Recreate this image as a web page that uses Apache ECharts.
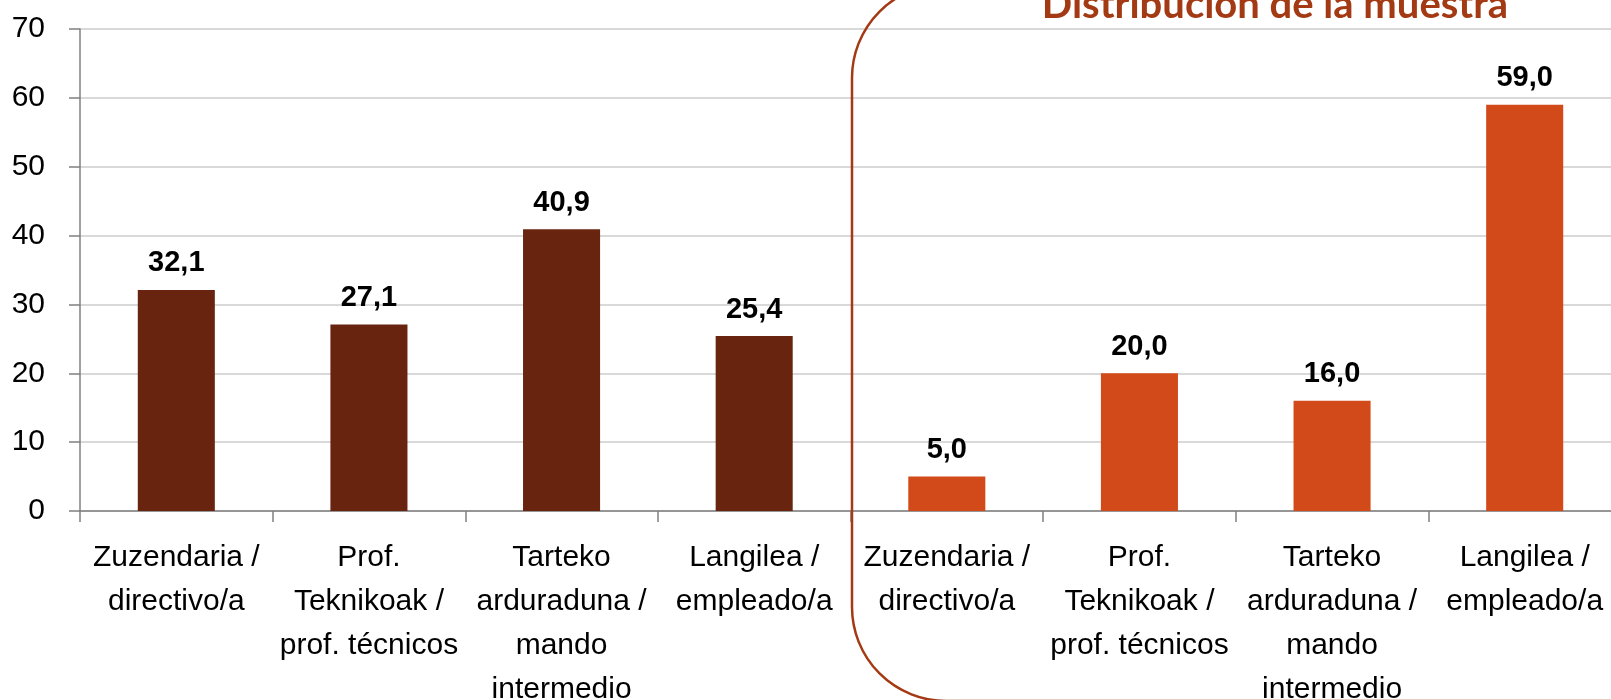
<!DOCTYPE html>
<html>
<head>
<meta charset="utf-8">
<script src="https://cdn.jsdelivr.net/npm/echarts@6/dist/echarts.min.js"></script>
<style>
  html, body { margin: 0; padding: 0; background: #fff; }
  #chart { width: 1611px; height: 700px; }
</style>
</head>
<body>
<div id="chart"></div>
<script>
  // categorias (se repiten en los dos bloques)
  var categories = [
    'Zuzendaria /\ndirectivo/a',
    'Prof.\nTeknikoak /\nprof. técnicos',
    'Tarteko\narduraduna /\nmando\nintermedio',
    'Langilea /\nempleado/a',
    'Zuzendaria /\ndirectivo/a',
    'Prof.\nTeknikoak /\nprof. técnicos',
    'Tarteko\narduraduna /\nmando\nintermedio',
    'Langilea /\nempleado/a'
  ];
  var leftValues = [32.1, 27.1, 40.9, 25.4];      // bloque izquierdo
  var muestraValues = [5.0, 20.0, 16.0, 59.0];    // distribución de la muestra
  var yTicks = [0, 10, 20, 30, 40, 50, 60, 70];
  var boxTitle = 'Distribución de la muestra';

  var sans = "'Liberation Sans', Arial, sans-serif";

  // rellenar con '-' para colocar cada bloque en su sitio
  var serieLeft = leftValues.concat(['-', '-', '-', '-']);
  var serieRight = ['-', '-', '-', '-'].concat(muestraValues);

  function fmt(p) {
    return Number(p.value).toFixed(1).replace('.', ',');
  }

  var chart = echarts.init(document.getElementById('chart'));
  chart.setOption({
    animation: false,
    grid: {
      left: 80,
      right: -10,
      top: 29,
      bottom: 189,
      outerBoundsMode: 'none'
    },
    xAxis: {
      type: 'category',
      data: categories,
      axisLine: { lineStyle: { color: '#808080', width: 1.5 } },
      axisTick: { show: true, length: 11, lineStyle: { color: '#808080', width: 1.5 } },
      axisLabel: {
        interval: 0,
        margin: 25,
        color: '#000',
        fontFamily: sans,
        fontSize: 30,
        lineHeight: 44
      }
    },
    yAxis: {
      type: 'value',
      min: yTicks[0],
      max: yTicks[yTicks.length - 1],
      interval: 10,
      axisLine: { show: true, lineStyle: { color: '#808080', width: 1.5 } },
      axisTick: { show: true, length: 11, lineStyle: { color: '#808080', width: 1.5 } },
      axisLabel: {
        margin: 35,
        color: '#000',
        fontFamily: sans,
        fontSize: 30
      },
      splitLine: { lineStyle: { color: '#d9d9d9', width: 2 } }
    },
    series: [
      {
        type: 'bar',
        data: serieLeft,
        barWidth: '40%',
        barGap: '-100%',
        itemStyle: { color: '#68240e' },
        label: {
          show: true,
          position: 'top',
          distance: 12,
          formatter: fmt,
          color: '#000',
          fontFamily: sans,
          fontWeight: 'bold',
          fontSize: 29
        }
      },
      {
        type: 'bar',
        data: serieRight,
        barWidth: '40%',
        barGap: '-100%',
        itemStyle: { color: '#d24a19' },
        label: {
          show: true,
          position: 'top',
          distance: 12,
          formatter: fmt,
          color: '#000',
          fontFamily: sans,
          fontWeight: 'bold',
          fontSize: 29
        }
      }
    ],
    graphic: [
      {
        type: 'rect',
        z: 100,
        shape: { x: 852, y: -16, width: 900, height: 717, r: 94 },
        style: { fill: 'none', stroke: '#a33a14', lineWidth: 2.5 }
      },
      {
        type: 'text',
        z: 100,
        x: 1275,
        y: 4.6,
        style: {
          text: boxTitle,
          fill: '#a33a14',
          font: "bold 40px Lato, 'Open Sans', sans-serif",
          align: 'center',
          verticalAlign: 'middle'
        }
      }
    ]
  });
</script>
</body>
</html>
